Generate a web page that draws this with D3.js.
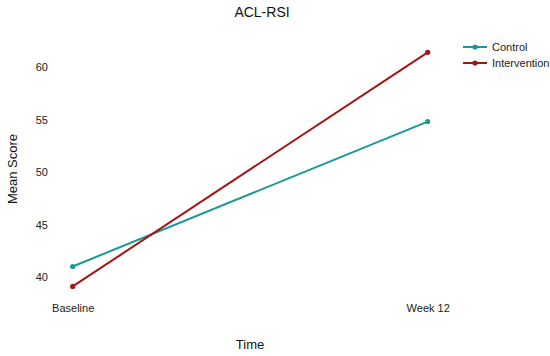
<!DOCTYPE html>
<html>
<head>
<meta charset="utf-8">
<script src="https://cdn.jsdelivr.net/npm/d3@7"></script>
<style>
  html, body { margin: 0; padding: 0; background: #fff; }
  svg { display: block; font-family: "Liberation Sans", Arial, sans-serif; }
</style>
</head>
<body>
<svg id="chart" width="550" height="356"></svg>
<script>
const categories = ["Baseline", "Week 12"];
const seriesNames = ["Control", "Intervention"];
const controlValues = [41.0, 54.8];
const interventionValues = [39.1, 61.4];
const yTicks = [40, 45, 50, 55, 60];
const colors = ["#1a9898", "#a31515"];

const series = [
  { name: seriesNames[0], values: controlValues, color: colors[0] },
  { name: seriesNames[1], values: interventionValues, color: colors[1] }
];

const svg = d3.select("#chart");

const x = d3.scalePoint().domain(categories).range([72.7, 427.7]);
const y = d3.scaleLinear().domain([40, 60]).range([277, 67]);

// Y axis
const yAxis = d3.axisLeft(y).tickValues(yTicks).tickSize(0).tickPadding(0);
const yg = svg.append("g").attr("transform", "translate(48,0)").call(yAxis);
yg.select(".domain").remove();
yg.selectAll("text").attr("font-size", 11).attr("fill", "#222")
  .attr("font-family", "Liberation Sans, Arial, sans-serif");

// X axis
const xAxis = d3.axisBottom(x).tickSize(0).tickPadding(0);
const xg = svg.append("g").attr("transform", "translate(0,304)").call(xAxis);
xg.select(".domain").remove();
xg.selectAll("text").attr("font-size", 11).attr("fill", "#222")
  .attr("font-family", "Liberation Sans, Arial, sans-serif");

// Lines
const line = d3.line().x((d, i) => x(categories[i])).y(d => y(d));
series.forEach(s => {
  svg.append("path").datum(s.values)
    .attr("d", line)
    .attr("fill", "none")
    .attr("stroke", s.color)
    .attr("stroke-width", 2);
  svg.selectAll(null).data(s.values).enter().append("circle")
    .attr("cx", (d, i) => x(categories[i]))
    .attr("cy", d => y(d))
    .attr("r", 2.6)
    .attr("fill", s.color);
});

// Title
svg.append("text").attr("x", 262).attr("y", 17).attr("text-anchor", "middle")
  .attr("font-size", 14).attr("fill", "#111").text("ACL-RSI");

// Axis titles
svg.append("text").attr("x", 250).attr("y", 349).attr("text-anchor", "middle")
  .attr("font-size", 13).attr("fill", "#111").text("Time");
svg.append("text").attr("transform", "translate(17,169) rotate(-90)")
  .attr("text-anchor", "middle").attr("font-size", 13).attr("fill", "#111")
  .text("Mean Score");

// Legend
const legend = svg.append("g");
series.forEach((s, i) => {
  const ly = 47 + i * 16;
  legend.append("line").attr("x1", 463).attr("x2", 487).attr("y1", ly).attr("y2", ly)
    .attr("stroke", s.color).attr("stroke-width", 2);
  legend.append("circle").attr("cx", 475).attr("cy", ly).attr("r", 2.6).attr("fill", s.color);
  legend.append("text").attr("x", 492).attr("y", ly + 4).attr("font-size", 11)
    .attr("fill", "#222").text(s.name);
});
</script>
</body>
</html>
